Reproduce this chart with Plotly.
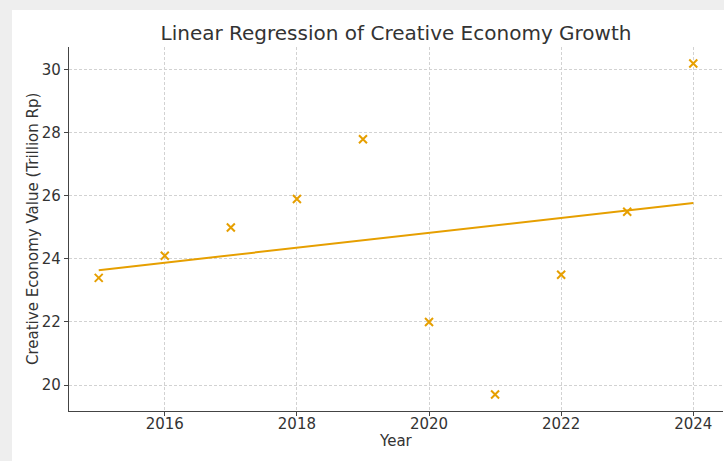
import numpy as np
import plotly.graph_objects as go

# Creative economy value by year (trillion Rp)
years = [2015, 2016, 2017, 2018, 2019, 2020, 2021, 2022, 2023, 2024]
values = [23.4, 24.1, 25.0, 25.9, 27.8, 22.0, 19.7, 23.5, 25.5, 30.2]

x_ticks = [2016, 2018, 2020, 2022, 2024]
y_ticks = [20, 22, 24, 26, 28, 30]

ORANGE = "#E69F00"
TEXT = "#333333"
FONT = "DejaVu Sans"

# Least-squares fit line
slope, intercept = np.polyfit(years, values, 1)
fit = [slope * x + intercept for x in years]

W, H = 724, 461
ML, MR, MT, MB = 69, 1, 47, 50
pw, ph = W - ML - MR, H - MT - MB

fig = go.Figure()
fig.add_trace(go.Scatter(
    x=years, y=fit, mode="lines",
    line=dict(color=ORANGE, width=2), showlegend=False, hoverinfo="skip",
))
fig.add_trace(go.Scatter(
    x=years, y=values, mode="markers",
    marker=dict(symbol="x-thin", size=8, color=ORANGE,
                line=dict(color=ORANGE, width=2)),
    showlegend=False,
))

axis_common = dict(
    showgrid=True, gridcolor="#d2d2d2", griddash="3px,2px", gridwidth=0.8,
    zeroline=False, showline=True, linecolor="#444444", linewidth=1.2,
    ticks="outside", ticklen=4, tickcolor="#444444", tickwidth=1,
    tickfont=dict(family=FONT, size=15, color=TEXT),
)

fig.update_xaxes(range=[2014.55, 2024.45], tickvals=x_ticks,
                 ticktext=[str(v) for v in x_ticks],
                 ticklabelstandoff=-5, **axis_common)
fig.update_yaxes(range=[19.175, 30.725], tickvals=y_ticks,
                 ticktext=[str(v) for v in y_ticks], **axis_common)

# Page frame: light grey border on the top and left edges
shapes = [dict(
    type="rect", xref="paper", yref="paper", layer="below",
    x0=(12 - ML) / pw, x1=1.2, y0=-0.3, y1=(H - MB - 10) / ph,
    fillcolor="white", line=dict(width=0),
)]

annotations = [
    dict(text="Year", xref="paper", yref="paper", x=0.5,
         y=(H - MB - 441) / ph, xanchor="center", yanchor="middle",
         showarrow=False, font=dict(family=FONT, size=15, color=TEXT)),
    dict(text="Creative Economy Value (Trillion Rp)", xref="paper",
         yref="paper", x=(33 - ML) / pw, y=0.5, textangle=-90,
         xanchor="center", yanchor="middle", showarrow=False,
         font=dict(family=FONT, size=15, color=TEXT)),
]

fig.update_layout(
    width=W, height=H,
    margin=dict(l=ML, r=MR, t=MT, b=MB),
    paper_bgcolor="#eeeeee", plot_bgcolor="white",
    title=dict(text="Linear Regression of Creative Economy Growth",
               x=0.5, xref="paper", y=1 - 33 / H, yref="container",
               xanchor="center", yanchor="middle",
               font=dict(family=FONT, size=20, color=TEXT)),
    shapes=shapes, annotations=annotations,
)

fig.write_html("out.html")
